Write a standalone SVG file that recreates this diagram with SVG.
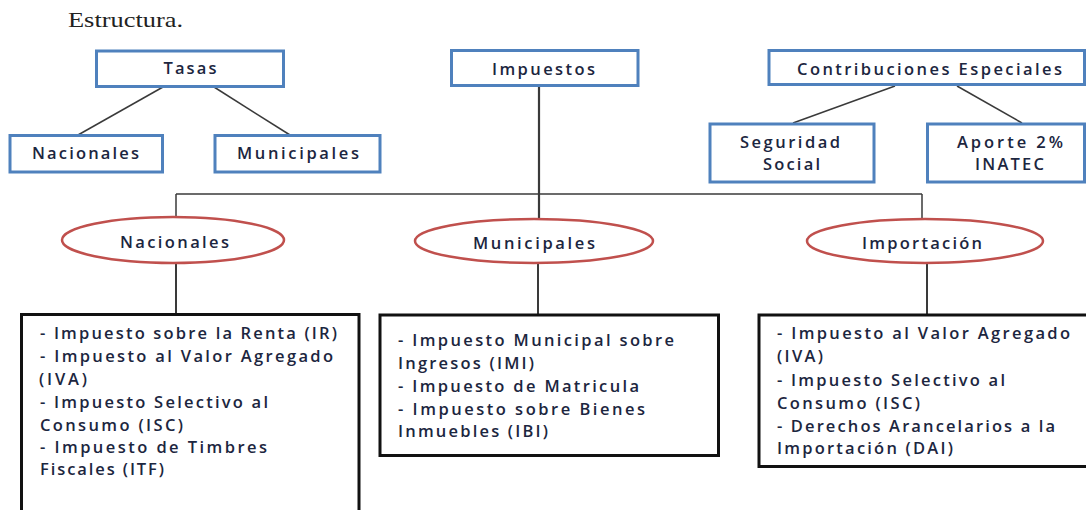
<svg xmlns="http://www.w3.org/2000/svg" width="1086" height="510" viewBox="0 0 1086 510">
  <style>
    .bx { fill: #ffffff; stroke: #4F81BD; stroke-width: 3; }
    .ov { fill: #ffffff; stroke: #C0504D; stroke-width: 2.5; }
    .lst { fill: #ffffff; stroke: #111111; stroke-width: 3; }
    .ln { stroke: #3a3a3a; stroke-width: 1.5; fill: none; }
    .t { font-family: "Open Sans", "Liberation Sans", sans-serif; font-size: 16.5px; font-weight: 600; fill: #1c2640; }
    .c { text-anchor: middle; }
    .title { font-family: "Liberation Serif", serif; font-size: 21px; fill: #222222; }
  </style>

  <text class="title" x="68" y="27" textLength="115" lengthAdjust="spacingAndGlyphs">Estructura.</text>

  <!-- connectors -->
  <g id="connectors">
    <line class="ln" x1="163" y1="87" x2="78" y2="135"/>
    <line class="ln" x1="214" y1="87" x2="290" y2="135"/>
    <line class="ln" x1="895" y1="86" x2="793" y2="123"/>
    <line class="ln" x1="957" y1="86" x2="1022" y2="123"/>
    <line class="ln" x1="539" y1="86" x2="539" y2="218" style="stroke-width:2.2"/>
    <line class="ln" x1="176" y1="194" x2="922" y2="194"/>
    <line class="ln" x1="176" y1="194" x2="176" y2="218"/>
    <line class="ln" x1="922" y1="194" x2="922" y2="218"/>
    <line class="ln" x1="176" y1="263" x2="176" y2="313" style="stroke-width:2"/>
    <line class="ln" x1="538" y1="263" x2="538" y2="314" style="stroke-width:2"/>
    <line class="ln" x1="927" y1="263" x2="927" y2="314" style="stroke-width:2"/>
  </g>

  <!-- Tasas branch -->
  <g id="tasas">
    <rect class="bx" x="96.5" y="51" width="187" height="35.5"/>
    <text class="t c" x="190" y="74" textLength="53" lengthAdjust="spacing">Tasas</text>
  </g>
  <g id="tasas-nacionales">
    <rect class="bx" x="10" y="135.5" width="152.5" height="36.5"/>
    <text class="t c" x="85.5" y="159" textLength="107" lengthAdjust="spacing">Nacionales</text>
  </g>
  <g id="tasas-municipales">
    <rect class="bx" x="215" y="135.5" width="165" height="36.5"/>
    <text class="t c" x="298" y="159" textLength="122" lengthAdjust="spacing">Municipales</text>
  </g>

  <!-- Impuestos branch -->
  <g id="impuestos">
    <rect class="bx" x="451.5" y="50.5" width="186.5" height="35"/>
    <text class="t c" x="543.5" y="75" textLength="103" lengthAdjust="spacing">Impuestos</text>
  </g>

  <!-- Contribuciones branch -->
  <g id="contribuciones">
    <rect class="bx" x="769" y="50.5" width="315.5" height="34"/>
    <text class="t c" x="929.5" y="75" textLength="265" lengthAdjust="spacing">Contribuciones Especiales</text>
  </g>
  <g id="seguridad-social">
    <rect class="bx" x="710" y="124" width="164" height="58"/>
    <text class="t c" x="790" y="148" textLength="100" lengthAdjust="spacing">Seguridad</text>
    <text class="t c" x="791.5" y="170" textLength="57" lengthAdjust="spacing">Social</text>
  </g>
  <g id="aporte-inatec">
    <rect class="bx" x="927.5" y="124" width="157" height="58"/>
    <text class="t c" x="1010" y="148" textLength="106" lengthAdjust="spacing">Aporte 2%</text>
    <text class="t c" x="1009.5" y="170" textLength="69" lengthAdjust="spacing">INATEC</text>
  </g>

  <!-- Impuestos categories -->
  <g id="cat-nacionales">
    <ellipse class="ov" cx="173" cy="240" rx="111" ry="23"/>
    <text class="t c" x="174.5" y="248" textLength="109" lengthAdjust="spacing">Nacionales</text>
  </g>
  <g id="cat-municipales">
    <ellipse class="ov" cx="534" cy="241" rx="119" ry="22"/>
    <text class="t c" x="534" y="249" textLength="122" lengthAdjust="spacing">Municipales</text>
  </g>
  <g id="cat-importacion">
    <ellipse class="ov" cx="925" cy="241" rx="118" ry="22"/>
    <text class="t c" x="922" y="249" textLength="120" lengthAdjust="spacing">Importación</text>
  </g>

  <!-- Lists -->
  <g id="list-nacionales">
    <rect class="lst" x="21.5" y="314.5" width="337.5" height="220"/>
    <text class="t" x="40" y="339" textLength="297" lengthAdjust="spacing">- Impuesto sobre la Renta (IR)</text>
    <text class="t" x="40" y="362" textLength="293" lengthAdjust="spacing">- Impuesto al Valor Agregado</text>
    <text class="t" x="39" y="385" textLength="48" lengthAdjust="spacing">(IVA)</text>
    <text class="t" x="40" y="408" textLength="228" lengthAdjust="spacing">- Impuesto Selectivo al</text>
    <text class="t" x="40" y="431" textLength="143" lengthAdjust="spacing">Consumo (ISC)</text>
    <text class="t" x="40" y="453" textLength="227" lengthAdjust="spacing">- Impuesto de Timbres</text>
    <text class="t" x="40" y="475" textLength="124" lengthAdjust="spacing">Fiscales (ITF)</text>
  </g>
  <g id="list-municipales">
    <rect class="lst" x="380" y="315" width="338.5" height="140.5"/>
    <text class="t" x="398" y="346" textLength="276" lengthAdjust="spacing">- Impuesto Municipal sobre</text>
    <text class="t" x="398" y="369" textLength="136" lengthAdjust="spacing">Ingresos (IMI)</text>
    <text class="t" x="398" y="392" textLength="241" lengthAdjust="spacing">- Impuesto de Matricula</text>
    <text class="t" x="398" y="415" textLength="247" lengthAdjust="spacing">- Impuesto sobre Bienes</text>
    <text class="t" x="398" y="437" textLength="150" lengthAdjust="spacing">Inmuebles (IBI)</text>
  </g>
  <g id="list-importacion">
    <rect class="lst" x="759" y="315" width="340" height="151.5"/>
    <text class="t" x="777" y="339" textLength="293" lengthAdjust="spacing">- Impuesto al Valor Agregado</text>
    <text class="t" x="777" y="362" textLength="46" lengthAdjust="spacing">(IVA)</text>
    <text class="t" x="777" y="386" textLength="228" lengthAdjust="spacing">- Impuesto Selectivo al</text>
    <text class="t" x="777" y="409" textLength="143" lengthAdjust="spacing">Consumo (ISC)</text>
    <text class="t" x="777" y="432" textLength="278" lengthAdjust="spacing">- Derechos Arancelarios a la</text>
    <text class="t" x="777" y="454" textLength="176" lengthAdjust="spacing">Importación (DAI)</text>
  </g>
</svg>
